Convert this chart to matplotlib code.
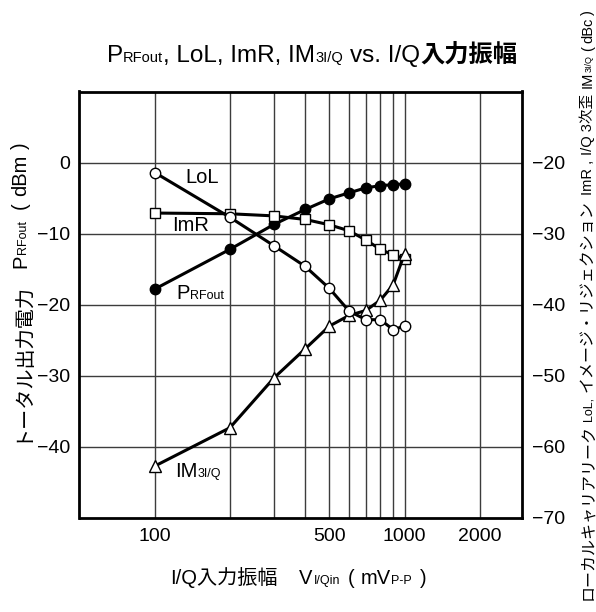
""" PRFout, LoL, ImR, IM3I/Q vs. I/Q input amplitude """
import matplotlib
matplotlib.use("Agg")
import matplotlib.pyplot as plt
from matplotlib.ticker import FixedLocator, NullFormatter, FixedFormatter

plt.rcParams['font.family'] = ['Liberation Sans', 'Noto Sans CJK JP']
plt.rcParams['axes.unicode_minus'] = True

# data ------------------------------------------------------------------------
vin = [100, 200, 300, 400, 500, 600, 700, 800, 900, 1000]          # mVp-p
prf_out = [-17.8, -12.2, -8.7, -6.6, -5.1, -4.25, -3.55, -3.25, -3.1, -3.0]   # dBm
lol = [-21.4, -27.7, -31.7, -34.6, -37.7, -40.9, -42.1, -42.1, -43.5, -43.0]  # dBc
imr = [-27.1, -27.2, -27.5, -28.0, -28.75, -29.6, -30.9, -32.2, -33.0, -33.5]  # dBc
im3 = [-62.7, -57.3, -50.3, -46.2, -43.0, -41.5, -40.8, -39.35, -37.2, -32.8]  # dBc

x_major = [100, 500, 1000, 2000]
x_minor = [200, 300, 400, 600, 700, 800, 900]
left_ticks = [0, -10, -20, -30, -40]
right_ticks = [-20, -30, -40, -50, -60, -70]

W, H = 596, 612


#-------------------------------------------------------------------------------
def rich_text(fig, cx, base, parts, rotation=0):
    """ Draw a row of text pieces (text, size, weight, gap_before_px).
        cx - centre along the reading direction (pixels, from left / from top)
        base - baseline position across the reading direction (pixels)
    """
    r = fig.canvas.get_renderer()
    objs = []
    for s, size, weight, gap in parts:
        t = fig.text(0, 0, s, fontsize=size, fontweight=weight, rotation=rotation,
                     rotation_mode='anchor', ha='left', va='baseline')
        objs.append((t, gap))
    lens = []
    for t, gap in objs:
        bb = t.get_window_extent(r)
        lens.append((bb.width if rotation == 0 else bb.height) + gap)
    total = sum(lens)
    if rotation == 0:
        pos = cx - total / 2
        for (t, gap), ln in zip(objs, lens):
            pos += gap
            t.set_position((pos / W, 1 - base / H))
            pos += ln - gap
    else:
        # reading bottom -> top, cx given from top
        pos = (H - cx) - total / 2
        for (t, gap), ln in zip(objs, lens):
            pos += gap
            t.set_position((base / W, pos / H))
            pos += ln - gap


fig = plt.figure(figsize=(W / 100, H / 100), dpi=100)
ax = fig.add_axes([79.5 / W, 1 - 518 / H, (522 - 79.5) / W, (518 - 91.5) / H])
ax2 = ax.twinx()

ax.set_xscale('log')
ax.set_xlim(50, 2950)
ax.set_ylim(-50, 10)
ax2.set_ylim(-70, -10)

ax.xaxis.set_major_locator(FixedLocator(x_major))
ax.xaxis.set_major_formatter(FixedFormatter([str(v) for v in x_major]))
ax.xaxis.set_minor_locator(FixedLocator(x_minor))
ax.xaxis.set_minor_formatter(NullFormatter())
ax.set_yticks(left_ticks)
ax2.set_yticks(right_ticks)

ax.grid(True, which='both', axis='x', color='#3c3c3c', lw=1.0)
ax.grid(True, which='major', axis='y', color='#3c3c3c', lw=1.0)
ax.tick_params(which='both', length=0, labelsize=14, pad=7)
ax2.tick_params(length=0, labelsize=14, pad=7)
for sp in ax.spines.values():
    sp.set_linewidth(2.0)
for sp in ax2.spines.values():
    sp.set_visible(False)

line_kw = dict(color='black', lw=2.2, markersize=7.5, markeredgewidth=1.0,
               markeredgecolor='black')
ax.plot(vin, prf_out, marker='o', markerfacecolor='black', **line_kw)
ax2.plot(vin, imr, marker='s', markerfacecolor='white', **line_kw)
ax2.plot(vin, im3, marker='^', markerfacecolor='white', **dict(line_kw, markersize=8.5))
ax2.plot(vin, lol, marker='o', markerfacecolor='white', **line_kw)

# series labels
big, small = 14.5, 9
rich_text(fig, 202, 183, [("LoL", big, 'normal', 0)])
rich_text(fig, 191, 231, [("ImR", big, 'normal', 0)])
rich_text(fig, 200, 299, [("P", big, 'normal', 0), ("RFout", small, 'normal', 0)])
rich_text(fig, 198, 477, [("IM", big, 'normal', 0), ("3I/Q", small, 'normal', 0)])

# title
rich_text(fig, 312, 62, [("P", 17.5, 'normal', 0), ("RFout", 10.5, 'normal', 0),
                         (", LoL, ImR, IM", 17.5, 'normal', 0), ("3I/Q", 10.5, 'normal', 0),
                         ("vs. I/Q", 17.5, 'normal', 7), ("入力振幅", 17.5, 'bold', 0)])

# x label
rich_text(fig, 298, 584, [("I/Q入力振幅", 14.5, 'normal', 0), ("V", 14.5, 'normal', 22),
                          ("I/Qin", small, 'normal', 1), ("(", 14.5, 'normal', 8),
                          ("mV", 14.5, 'normal', 6), ("P-P", small, 'normal', 0),
                          (")", 14.5, 'normal', 8)])

# left y label
rich_text(fig, 292, 26, [("トータル出力電力", 14.5, 'normal', 0), ("P", 14.5, 'normal', 13),
                         ("RFout", small, 'normal', 0), ("(", 14.5, 'normal', 11),
                         ("dBm", 14.5, 'normal', 6), (")", 14.5, 'normal', 6)],
          rotation=90)

# right y label
rich_text(fig, 305, 592, [("ローカルキャリアリーク", 11.5, 'normal', 0), ("LoL,", 9, 'normal', 3),
                          ("イメージ・リジェクション", 11.5, 'normal', 5), ("ImR ,", 10.5, 'normal', 5),
                          ("I/Q 3次歪", 10.5, 'normal', 5), ("IM", 10.5, 'normal', 6),
                          ("3I/Q", 6.5, 'normal', 0), ("(", 10.5, 'normal', 4),
                          ("dBc", 10.5, 'normal', 3), (")", 10.5, 'normal', 3)],
          rotation=90)

fig.savefig("out.png", dpi=100)
